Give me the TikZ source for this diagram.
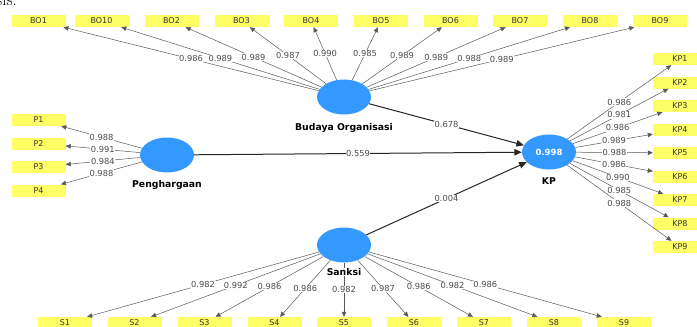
\documentclass[tikz,border=0pt]{standalone}
\usepackage{fontspec}
\setsansfont{DejaVu Sans}
\usetikzlibrary{arrows.meta, shapes, positioning}

\definecolor{lvblue}{RGB}{51,153,255}
\definecolor{indyellow}{RGB}{255,255,102}

\begin{document}
\begin{tikzpicture}[x=1pt, y=-1pt, >={Triangle[length=5pt, width=4.5pt]},
    latent/.style={ellipse, fill=lvblue, minimum width=54pt, minimum height=35pt, inner sep=0pt},
    indbox/.style={rectangle, fill=indyellow, minimum width=54pt, minimum height=12pt, inner sep=0pt, font=\sffamily\fontsize{8}{9}\selectfont, text=black!80},
    lvname/.style={fill=white, font=\sffamily\bfseries\fontsize{9.3}{10}\selectfont, inner sep=0.5pt},
    load/.style={->, draw=black!65, line width=0.5pt},
    struct/.style={-{Triangle[length=7.5pt, width=6.5pt]}, draw=black!85, line width=1pt},
    coef/.style={fill=white, inner sep=0.6pt, font=\sffamily\fontsize{8.3}{9}\selectfont, text=black!70}]

        \useasboundingbox (0,0) rectangle (697,327);

        % clipped caption above the figure
        \node[anchor=base west, inner sep=0pt, font=\fontsize{17}{17}\selectfont] (cap) at (-4,5) {sis.};

        % latent variables
        \node[latent] (BO) at (344,97) {};
        \node[latent] (PG) at (167,155) {};
        \node[latent] (KP) at (549,152) {\sffamily\bfseries\fontsize{8.5}{9}\selectfont\color{white}0.998};
        \node[latent] (SK) at (344,245) {};

        % indicators
        \node[indbox] (BO1) at (38.5,21) {BO1};
        \node[indbox] (BO10) at (101.5,21) {BO10};
        \node[indbox] (BO2) at (171.5,21) {BO2};
        \node[indbox] (BO3) at (241.5,21) {BO3};
        \node[indbox] (BO4) at (311,21) {BO4};
        \node[indbox] (BO5) at (381,21) {BO5};
        \node[indbox] (BO6) at (450.5,21) {BO6};
        \node[indbox] (BO7) at (520,21) {BO7};
        \node[indbox] (BO8) at (590,21) {BO8};
        \node[indbox] (BO9) at (660,21) {BO9};

        \node[indbox] (P1) at (38.5,120) {P1};
        \node[indbox] (P2) at (38.5,143.5) {P2};
        \node[indbox] (P3) at (38.5,167) {P3};
        \node[indbox] (P4) at (38.5,190.5) {P4};

        \node[indbox] (KP1) at (680,59) {KP1};
        \node[indbox] (KP2) at (680,82.5) {KP2};
        \node[indbox] (KP3) at (680,106) {KP3};
        \node[indbox] (KP4) at (680,129.5) {KP4};
        \node[indbox] (KP5) at (680,153) {KP5};
        \node[indbox] (KP6) at (680,176.5) {KP6};
        \node[indbox] (KP7) at (680,200) {KP7};
        \node[indbox] (KP8) at (680,223.5) {KP8};
        \node[indbox] (KP9) at (680,247) {KP9};

        \node[indbox] (S1) at (65,323) {S1};
        \node[indbox] (S2) at (134.5,323) {S2};
        \node[indbox] (S3) at (204.5,323) {S3};
        \node[indbox] (S4) at (274.5,323) {S4};
        \node[indbox] (S5) at (344,323) {S5};
        \node[indbox] (S6) at (414,323) {S6};
        \node[indbox] (S7) at (484,323) {S7};
        \node[indbox] (S8) at (554,323) {S8};
        \node[indbox] (S9) at (624,323) {S9};

        % outer loadings
        \draw[load] (BO) -- (BO1) node[coef, midway] {0.986};
        \draw[load] (BO) -- (BO10) node[coef, midway] {0.989};
        \draw[load] (BO) -- (BO2) node[coef, midway] {0.989};
        \draw[load] (BO) -- (BO3) node[coef, midway] {0.987};
        \draw[load] (BO) -- (BO4) node[coef, midway] {0.990};
        \draw[load] (BO) -- (BO5) node[coef, midway] {0.985};
        \draw[load] (BO) -- (BO6) node[coef, midway] {0.989};
        \draw[load] (BO) -- (BO7) node[coef, midway] {0.989};
        \draw[load] (BO) -- (BO8) node[coef, midway] {0.988};
        \draw[load] (BO) -- (BO9) node[coef, midway] {0.989};

        \draw[load] (PG) -- (P1) node[coef, midway] {0.988};
        \draw[load] (PG) -- (P2) node[coef, midway] {0.991};
        \draw[load] (PG) -- (P3) node[coef, midway] {0.984};
        \draw[load] (PG) -- (P4) node[coef, midway] {0.988};

        \draw[load] (KP) -- (KP1) node[coef, midway] {0.986};
        \draw[load] (KP) -- (KP2) node[coef, midway] {0.981};
        \draw[load] (KP) -- (KP3) node[coef, midway] {0.986};
        \draw[load] (KP) -- (KP4) node[coef, midway] {0.989};
        \draw[load] (KP) -- (KP5) node[coef, midway] {0.988};
        \draw[load] (KP) -- (KP6) node[coef, midway] {0.986};
        \draw[load] (KP) -- (KP7) node[coef, midway] {0.990};
        \draw[load] (KP) -- (KP8) node[coef, midway] {0.985};
        \draw[load] (KP) -- (KP9) node[coef, midway] {0.988};

        \draw[load] (SK) -- (S1) node[coef, midway] {0.982};
        \draw[load] (SK) -- (S2) node[coef, midway] {0.992};
        \draw[load] (SK) -- (S3) node[coef, midway] {0.986};
        \draw[load] (SK) -- (S4) node[coef, midway] {0.986};
        \draw[load] (SK) -- (S5) node[coef, midway] {0.982};
        \draw[load] (SK) -- (S6) node[coef, midway] {0.987};
        \draw[load] (SK) -- (S7) node[coef, midway] {0.986};
        \draw[load] (SK) -- (S8) node[coef, midway] {0.982};
        \draw[load] (SK) -- (S9) node[coef, midway] {0.986};

        % path coefficients
        \draw[struct] (BO) -- (KP) node[coef, midway] {0.678};
        \draw[struct] (PG) -- (KP) node[coef, midway] {0.559};
        \draw[struct] (SK) -- (KP) node[coef, midway] {0.004};

        % latent variable names
        \node[lvname, below=8pt of BO] (BOname) {Budaya Organisasi};
        \node[lvname, below=7pt of PG] (PGname) {Penghargaan};
        \node[lvname, below=7pt of KP] (KPname) {KP};
        \node[lvname, below=5pt of SK] (SKname) {Sanksi};

    \end{tikzpicture}
\end{document}
